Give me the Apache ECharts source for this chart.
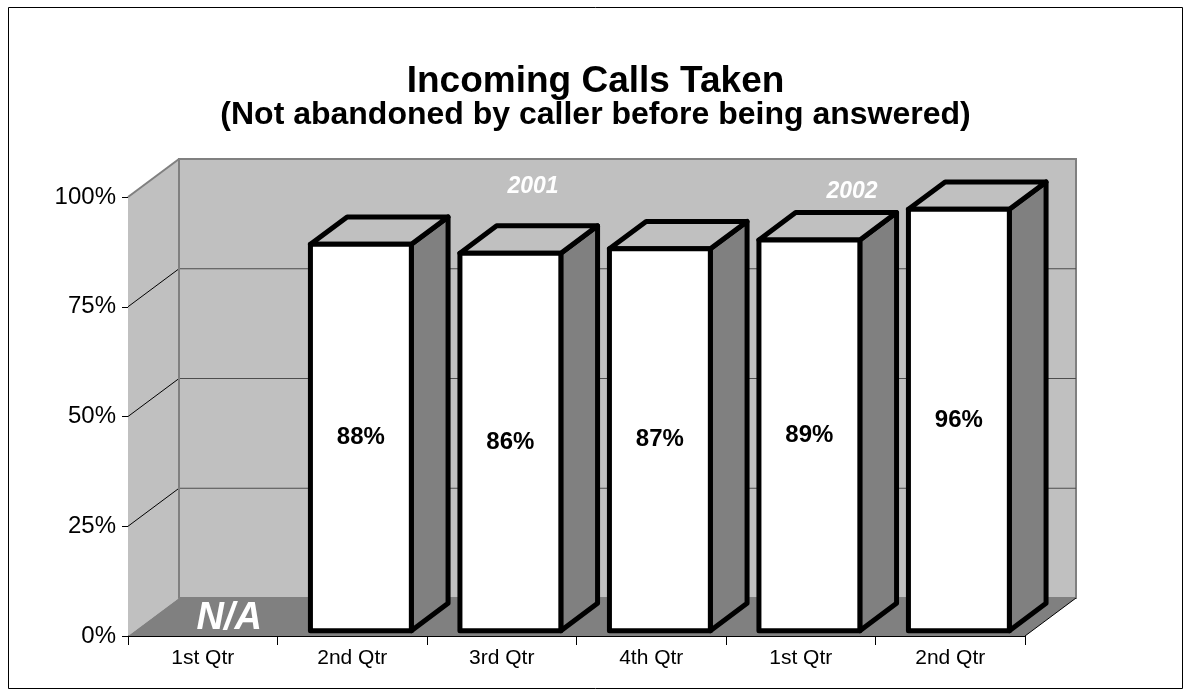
<!DOCTYPE html>
<html>
<head>
<meta charset="utf-8">
<script src="https://cdn.jsdelivr.net/npm/echarts@6/dist/echarts.min.js"></script>
<style>
  html, body { margin: 0; padding: 0; background: #fff; }
  #chart { width: 1191px; height: 696px; }
</style>
</head>
<body>
<div id="chart"></div>
<script>
// Quarterly share of incoming calls taken (not abandoned before answer)
const categories = ['1st Qtr', '2nd Qtr', '3rd Qtr', '4th Qtr', '1st Qtr', '2nd Qtr'];
const callsTaken = [null, 88, 86, 87, 89, 96];   // null = no data (N/A)
const yTickValues = [0, 25, 50, 75, 100];
const yearLabels = ['2001', '2002'];
const naLabel = 'N/A';

const FONT = 'Arial, "Liberation Sans", Helvetica, sans-serif';
// 3D projection: offset of the back wall relative to the front plane
const DEPTH = { x: 51, y: -38 };
const BAR_DEPTH_FRONT = 0.14, BAR_DEPTH_BACK = 0.86;
const BAR_WIDTH_RATIO = 0.675;

const chart = echarts.init(document.getElementById('chart'), null, { renderer: 'canvas' });

// Walls, floor and back-wall gridlines of the 3D plot box
function renderBox(params, api) {
  const cs = params.coordSys;
  const xL = cs.x, xR = cs.x + cs.width;
  const y0 = api.coord([0, yTickValues[0]])[1];
  const yMax = api.coord([0, yTickValues[yTickValues.length - 1]])[1];
  const dx = DEPTH.x, dy = DEPTH.y;
  const children = [];
  // back wall
  children.push({
    type: 'polygon',
    shape: { points: [[xL + dx, y0 + dy], [xL + dx, yMax + dy], [xR + dx, yMax + dy], [xR + dx, y0 + dy]] },
    style: { fill: '#c0c0c0', stroke: '#808080', lineWidth: 2 }
  });
  // left side wall
  children.push({
    type: 'polygon',
    shape: { points: [[xL, y0], [xL, yMax], [xL + dx, yMax + dy], [xL + dx, y0 + dy]] },
    style: { fill: '#c0c0c0', stroke: null }
  });
  // floor
  children.push({
    type: 'polygon',
    shape: { points: [[xL, y0], [xR, y0], [xR + dx, y0 + dy], [xL + dx, y0 + dy]] },
    style: { fill: '#808080', stroke: null }
  });
  // gridlines on back wall and side wall
  yTickValues.forEach(function (v, k) {
    const y = api.coord([0, v])[1];
    if (k > 0 && k < yTickValues.length - 1) {
      children.push({
        type: 'line',
        shape: { x1: xL + dx, y1: y + dy, x2: xR + dx, y2: y + dy },
        style: { stroke: '#4d4d4d', lineWidth: 1 }
      });
      children.push({
        type: 'line',
        shape: { x1: xL, y1: y, x2: xL + dx, y2: y + dy },
        style: { stroke: '#000', lineWidth: 1 }
      });
    }
  });
  // top edge of side wall and back-wall left edge
  children.push({
    type: 'line',
    shape: { x1: xL, y1: yMax, x2: xL + dx, y2: yMax + dy },
    style: { stroke: '#808080', lineWidth: 2 }
  });
  children.push({
    type: 'line',
    shape: { x1: xL + dx, y1: yMax + dy, x2: xL + dx, y2: y0 + dy },
    style: { stroke: '#808080', lineWidth: 2 }
  });
  // right edge of floor
  children.push({
    type: 'line',
    shape: { x1: xR, y1: y0, x2: xR + dx, y2: y0 + dy },
    style: { stroke: '#000', lineWidth: 1 }
  });
  // quarters without data get an N/A tag on the floor
  callsTaken.forEach(function (v, i) {
    if (v !== null) return;
    const c = api.coord([i, 0]);
    children.push({
      type: 'text',
      style: {
        text: naLabel, x: c[0] + dx / 2 + 1, y: c[1] + dy / 2 + 2,
        fill: '#fff', font: 'italic bold 38px ' + FONT,
        align: 'center', verticalAlign: 'middle'
      }
    });
  });
  return { type: 'group', children: children };
}

// One 3D column: front face, top face, side face and value label
function renderBar(params, api) {
  const idx = api.value(0), val = api.value(1);
  const base = api.coord([idx, 0]);
  const top = api.coord([idx, val]);
  const bw = api.size([1, 0])[0] * BAR_WIDTH_RATIO;
  const fx = base[0] + DEPTH.x * BAR_DEPTH_FRONT - bw / 2 + 1.5;
  const fyB = base[1] + DEPTH.y * BAR_DEPTH_FRONT;
  const fyT = top[1] + DEPTH.y * BAR_DEPTH_FRONT;
  const ddx = DEPTH.x * (BAR_DEPTH_BACK - BAR_DEPTH_FRONT);
  const ddy = DEPTH.y * (BAR_DEPTH_BACK - BAR_DEPTH_FRONT);
  const edge = { stroke: '#000', lineWidth: 5, lineJoin: 'round' };
  return {
    type: 'group',
    children: [
      {
        type: 'polygon',
        shape: { points: [[fx + bw, fyT], [fx + bw + ddx, fyT + ddy], [fx + bw + ddx, fyB + ddy], [fx + bw, fyB]] },
        style: Object.assign({ fill: '#808080' }, edge)
      },
      {
        type: 'polygon',
        shape: { points: [[fx, fyT], [fx + bw, fyT], [fx + bw + ddx, fyT + ddy], [fx + ddx, fyT + ddy]] },
        style: Object.assign({ fill: '#c0c0c0' }, edge)
      },
      {
        type: 'rect',
        shape: { x: fx, y: fyT, width: bw, height: fyB - fyT },
        style: Object.assign({ fill: '#fff' }, edge)
      },
      {
        type: 'text',
        style: {
          text: val + '%', x: fx + bw / 2, y: (fyT + fyB) / 2,
          fill: '#000', font: 'bold 24px ' + FONT,
          align: 'center', verticalAlign: 'middle'
        }
      }
    ]
  };
}

const barData = callsTaken
  .map(function (v, i) { return [i, v]; })
  .filter(function (d) { return d[1] !== null; });

chart.setOption({
  animation: false,
  backgroundColor: '#fff',
  title: [
    {
      text: 'Incoming Calls Taken', left: 'center', top: 57,
      textStyle: { fontFamily: FONT, fontWeight: 'bold', fontSize: 37, color: '#000', lineHeight: 40 }
    },
    {
      text: '(Not abandoned by caller before being answered)', left: 'center', top: 93,
      textStyle: { fontFamily: FONT, fontWeight: 'bold', fontSize: 32, color: '#000', lineHeight: 34 }
    }
  ],
  grid: { left: 128, right: 166, top: 197, bottom: 60, containLabel: false, outerBoundsMode: 'none' },
  xAxis: {
    type: 'category',
    data: categories,
    axisLine: { show: true, lineStyle: { color: '#000', width: 1 } },
    axisTick: { show: true, length: 9, lineStyle: { color: '#000' } },
    axisLabel: { fontFamily: FONT, fontSize: 21, color: '#000', margin: 12 },
    splitLine: { show: false }
  },
  yAxis: {
    type: 'value',
    min: 0, max: 100, interval: 25,
    axisLine: { show: true, lineStyle: { color: '#000', width: 1 } },
    axisTick: { show: true, length: 6, lineStyle: { color: '#000' } },
    axisLabel: { formatter: '{value}%', fontFamily: FONT, fontSize: 24, color: '#000', margin: 12 },
    splitLine: { show: false }
  },
  graphic: [
    {
      type: 'rect', z: 100,
      shape: { x: 8.5, y: 7.5, width: 1174, height: 681 },
      style: { fill: null, stroke: '#000', lineWidth: 1 }
    },
    {
      type: 'text', z: 100, x: 533, y: 187,
      style: { text: yearLabels[0], fill: '#fff', font: 'italic bold 23px ' + FONT, align: 'center', verticalAlign: 'middle' }
    },
    {
      type: 'text', z: 100, x: 852, y: 192,
      style: { text: yearLabels[1], fill: '#fff', font: 'italic bold 23px ' + FONT, align: 'center', verticalAlign: 'middle' }
    }
  ],
  series: [
    {
      type: 'custom', z: 1, clip: false, silent: true,
      renderItem: renderBox,
      data: [[0, 0]],
      encode: { x: 0, y: 1 }
    },
    {
      type: 'custom', z: 2, clip: false,
      renderItem: renderBar,
      data: barData,
      encode: { x: 0, y: 1 }
    }
  ]
});
</script>
</body>
</html>
